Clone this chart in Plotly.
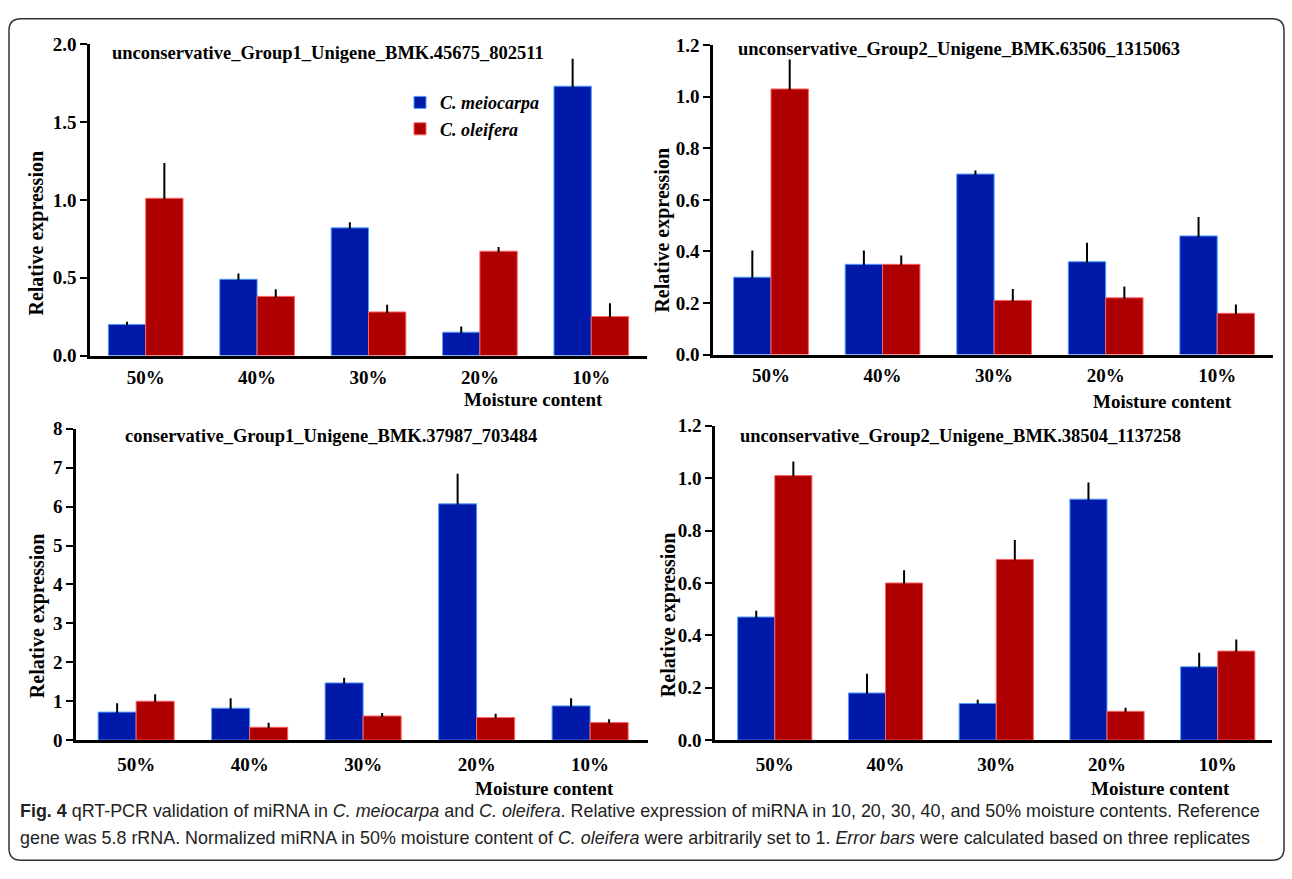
import plotly.graph_objects as go

W, H = 1292, 879

categories = ["50%", "40%", "30%", "20%", "10%"]
species = ["C. meiocarpa", "C. oleifera"]

titles = [
    "unconservative_Group1_Unigene_BMK.45675_802511",
    "unconservative_Group2_Unigene_BMK.63506_1315063",
    "conservative_Group1_Unigene_BMK.37987_703484",
    "unconservative_Group2_Unigene_BMK.38504_1137258",
]

# panel 1
p1_meio = [0.20, 0.49, 0.82, 0.15, 1.73]
p1_meio_err = [0.01, 0.03, 0.03, 0.03, 0.17]
p1_olei = [1.01, 0.38, 0.28, 0.67, 0.25]
p1_olei_err = [0.22, 0.04, 0.04, 0.02, 0.08]
# panel 2
p2_meio = [0.30, 0.35, 0.70, 0.36, 0.46]
p2_meio_err = [0.10, 0.05, 0.01, 0.07, 0.07]
p2_olei = [1.03, 0.35, 0.21, 0.22, 0.16]
p2_olei_err = [0.11, 0.03, 0.04, 0.04, 0.03]
# panel 3
p3_meio = [0.72, 0.82, 1.47, 6.07, 0.88]
p3_meio_err = [0.20, 0.23, 0.11, 0.75, 0.17]
p3_olei = [1.00, 0.33, 0.62, 0.58, 0.45]
p3_olei_err = [0.15, 0.09, 0.05, 0.07, 0.06]
# panel 4
p4_meio = [0.47, 0.18, 0.14, 0.92, 0.28]
p4_meio_err = [0.02, 0.07, 0.01, 0.06, 0.05]
p4_olei = [1.01, 0.60, 0.69, 0.11, 0.34]
p4_olei_err = [0.05, 0.045, 0.07, 0.01, 0.04]

y_ranges = [[0, 2.0], [0, 1.2], [0, 8], [0, 1.2]]
y_dticks = [0.5, 0.2, 1, 0.2]
y_formats = [".1f", ".1f", "d", ".1f"]

caption_1 = ("<b>Fig. 4</b> qRT-PCR validation of miRNA in <i>C. meiocarpa</i> and "
             "<i>C. oleifera</i>. Relative expression of miRNA in 10, 20, 30, 40, and 50% "
             "moisture contents. Reference")
caption_2 = ("gene was 5.8 rRNA. Normalized miRNA in 50% moisture content of "
             "<i>C. oleifera</i> were arbitrarily set to 1. <i>Error bars</i> were "
             "calculated based on three replicates")

BLUE = "#0019A8"
RED = "#AE0000"
SERIF = "Liberation Serif"

# layout geometry (pixels)
panels = [
    dict(x0=90, x1=647, ytop=35, ybot=354, xr=[-0.5, 4.5], tx=110, ty=44,
         ylx=37, yly=229, mx=533, my=399, stand=3),
    dict(x0=713, x1=1273, ytop=36, ybot=353, xr=[-0.52, 4.5], tx=736, ty=40,
         ylx=663, yly=226, mx=1162, my=401, stand=2),
    dict(x0=76, x1=648, ytop=429, ybot=748, xr=[-0.53, 4.51], tx=123, ty=436,
         ylx=37, yly=621, mx=544, my=798, stand=5),
    dict(x0=715, x1=1272, ytop=426, ybot=748, xr=[-0.54, 4.49], tx=738, ty=436,
         ylx=668, yly=620, mx=1160, my=798, stand=5),
]

data = [
    (p1_meio, p1_meio_err, p1_olei, p1_olei_err),
    (p2_meio, p2_meio_err, p2_olei, p2_olei_err),
    (p3_meio, p3_meio_err, p3_olei, p3_olei_err),
    (p4_meio, p4_meio_err, p4_olei, p4_olei_err),
]

def px(x):
    return x / W

def py(y):
    return 1 - y / H

fig = go.Figure()
layout = {}
annotations = []

for i, (pan, (m, me, o, oe)) in enumerate(zip(panels, data)):
    n = "" if i == 0 else str(i + 1)
    xa, ya = "x" + n, "y" + n
    for name, vals, errs, col, lcol, og in [
        (species[0], m, me, BLUE, "#4f9cff", "a"),
        (species[1], o, oe, RED, "#ff6060", "b"),
    ]:
        fig.add_trace(go.Bar(
            x=categories, y=vals, name="<b><i>" + name + "</i></b>",
            xaxis=xa, yaxis=ya, offsetgroup=og,
            marker=dict(color=col, line=dict(color=lcol, width=1)),
            error_y=dict(type="data", symmetric=False, array=errs,
                         arrayminus=[0] * len(errs), color="black",
                         thickness=2, width=1),
            showlegend=(i == 0),
        ))
    layout["xaxis" + n] = dict(
        domain=[px(pan["x0"]), px(pan["x1"])], anchor=ya,
        range=pan["xr"], type="category",
        showline=True, linecolor="black", linewidth=3,
        ticks="", showgrid=False, zeroline=False,
        ticklabelstandoff=pan["stand"],
        tickfont=dict(family=SERIF, size=19, color="black", weight="bold"),
    )
    layout["yaxis" + n] = dict(
        domain=[py(pan["ybot"]), py(pan["ytop"])], anchor=xa,
        range=y_ranges[i], dtick=y_dticks[i], tick0=0, tickformat=y_formats[i],
        showline=True, linecolor="black", linewidth=2.5,
        ticks="outside", ticklen=7, tickwidth=2, tickcolor="black",
        showgrid=False, zeroline=False,
        tickfont=dict(family=SERIF, size=19, color="black", weight="bold"),
    )
    annotations.append(dict(
        text="<b>" + titles[i] + "</b>", xref="paper", yref="paper",
        x=px(pan["tx"]), y=py(pan["ty"]), xanchor="left", yanchor="middle",
        showarrow=False, font=dict(family=SERIF, size=18.5, color="black"),
    ))
    annotations.append(dict(
        text="<b>Relative expression</b>", xref="paper", yref="paper",
        x=px(pan["ylx"]), y=py(pan["yly"]), xanchor="center", yanchor="middle",
        textangle=-90, showarrow=False,
        font=dict(family=SERIF, size=20, color="black"),
    ))
    annotations.append(dict(
        text="<b>Moisture content</b>", xref="paper", yref="paper",
        x=px(pan["mx"]), y=py(pan["my"]), xanchor="center", yanchor="middle",
        showarrow=False, font=dict(family=SERIF, size=19, color="black"),
    ))

CAP_FONT = "Liberation Sans"
annotations.append(dict(
    text=caption_1, xref="paper", yref="paper", x=px(18), y=py(821),
    xanchor="left", yanchor="middle", showarrow=False,
    font=dict(family=CAP_FONT, size=17.9, color="#222222"),
))
annotations.append(dict(
    text=caption_2, xref="paper", yref="paper", x=px(18), y=py(848),
    xanchor="left", yanchor="middle", showarrow=False,
    font=dict(family=CAP_FONT, size=17.9, color="#222222"),
))

# rounded outer border
l, r, t, b = px(9), px(1284), py(9), py(871)
rx, ry = 12 / W, 12 / H
path = (f"M {l+rx},{t} L {r-rx},{t} Q {r},{t} {r},{t-ry} L {r},{b+ry} "
        f"Q {r},{b} {r-rx},{b} L {l+rx},{b} Q {l},{b} {l},{b+ry} "
        f"L {l},{t-ry} Q {l},{t} {l+rx},{t} Z")
shapes = [dict(type="path", path=path, xref="paper", yref="paper",
               line=dict(color="#333333", width=1.5))]

fig.update_layout(
    width=W, height=H, margin=dict(l=0, r=0, t=0, b=0),
    paper_bgcolor="white", plot_bgcolor="white",
    barmode="group", bargap=0.33, bargroupgap=0,
    annotations=annotations, shapes=shapes,
    legend=dict(x=px(400), y=py(76), xanchor="left", yanchor="top",
                bgcolor="rgba(0,0,0,0)", tracegroupgap=0,
                font=dict(family=SERIF, size=18, color="black")),
    **layout,
)

fig.write_html("out.html", config={"displayModeBar": False},
               post_script="document.body.style.margin='0';")
